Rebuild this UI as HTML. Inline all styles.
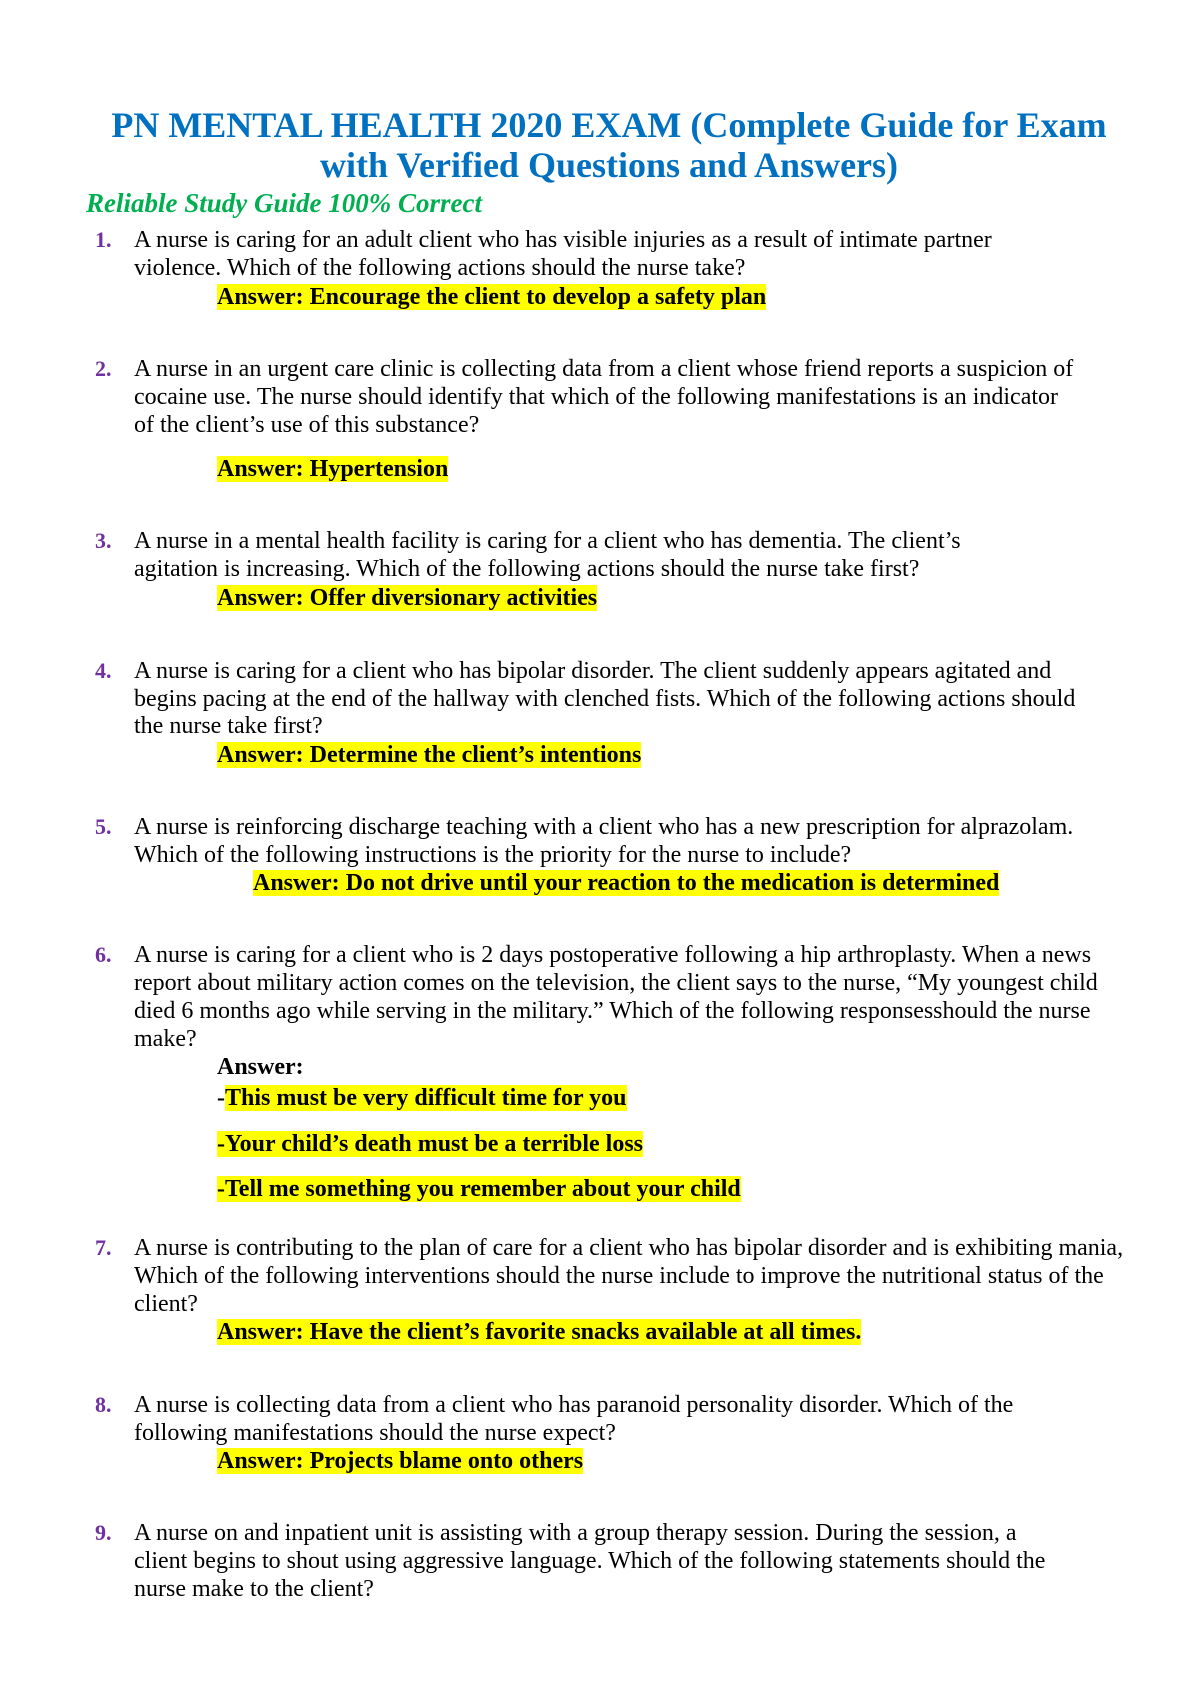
<!DOCTYPE html>
<html><head><meta charset="utf-8"><style>
body{margin:0;background:#fff;}
#p{position:relative;width:1190px;height:1684px;overflow:hidden;font-family:"Liberation Serif",serif;color:#000;}
.t{position:absolute;left:0;width:1190px;text-align:center;font-weight:bold;font-size:36px;color:#0070c0;line-height:38px;white-space:nowrap;padding-left:28px;box-sizing:border-box}
.s{position:absolute;left:86px;font-weight:bold;font-style:italic;font-size:27px;color:#00b050;line-height:28px;white-space:nowrap}
.l{position:absolute;left:134px;font-size:24px;line-height:28px;white-space:nowrap}
.n{position:absolute;left:95px;font-size:22px;line-height:28px;font-weight:bold;color:#7030a0}
.a{position:absolute;left:217px;font-size:24px;line-height:28px;font-weight:bold;white-space:nowrap}
.h{background:#ffff00}
</style></head><body><div id="p">
<div class="t" style="top:106px">PN MENTAL HEALTH 2020 EXAM (Complete Guide for Exam</div>
<div class="t" style="top:146px">with Verified Questions and Answers)</div>
<div class="s" style="top:189px">Reliable Study Guide 100% Correct</div>

<div class="n" style="top:226px">1.</div>
<div class="l" style="top:226px">A nurse is caring for an adult client who has visible injuries as a result of intimate partner</div>
<div class="l" style="top:254px">violence. Which of the following actions should the nurse take?</div>
<div class="a" style="top:283px"><span class="h">Answer: Encourage the client to develop a safety plan</span></div>

<div class="n" style="top:355px">2.</div>
<div class="l" style="top:355px">A nurse in an urgent care clinic is collecting data from a client whose friend reports a suspicion of</div>
<div class="l" style="top:383px">cocaine use. The nurse should identify that which of the following manifestations is an indicator</div>
<div class="l" style="top:411px">of the client’s use of this substance?</div>
<div class="a" style="top:455px"><span class="h">Answer: Hypertension</span></div>

<div class="n" style="top:527px">3.</div>
<div class="l" style="top:527px">A nurse in a mental health facility is caring for a client who has dementia. The client’s</div>
<div class="l" style="top:555px">agitation is increasing. Which of the following actions should the nurse take first?</div>
<div class="a" style="top:584px"><span class="h">Answer: Offer diversionary activities</span></div>

<div class="n" style="top:657px">4.</div>
<div class="l" style="top:657px">A nurse is caring for a client who has bipolar disorder. The client suddenly appears agitated and</div>
<div class="l" style="top:685px">begins pacing at the end of the hallway with clenched fists. Which of the following actions should</div>
<div class="l" style="top:712px">the nurse take first?</div>
<div class="a" style="top:741px"><span class="h">Answer: Determine the client’s intentions</span></div>

<div class="n" style="top:813px">5.</div>
<div class="l" style="top:813px">A nurse is reinforcing discharge teaching with a client who has a new prescription for alprazolam.</div>
<div class="l" style="top:841px">Which of the following instructions is the priority for the nurse to include?</div>
<div class="a" style="top:869px;left:253px"><span class="h">Answer: Do not drive until your reaction to the medication is determined</span></div>

<div class="n" style="top:941px">6.</div>
<div class="l" style="top:941px">A nurse is caring for a client who is 2 days postoperative following a hip arthroplasty. When a news</div>
<div class="l" style="top:969px">report about military action comes on the television, the client says to the nurse, “My youngest child</div>
<div class="l" style="top:997px">died 6 months ago while serving in the military.” Which of the following responsesshould the nurse</div>
<div class="l" style="top:1025px">make?</div>
<div class="a" style="top:1053px">Answer:</div>
<div class="a" style="top:1084px">-<span class="h">This must be very difficult time for you</span></div>
<div class="a" style="top:1130px"><span class="h">-Your child’s death must be a terrible loss</span></div>
<div class="a" style="top:1175px"><span class="h">-Tell me something you remember about your child</span></div>

<div class="n" style="top:1234px">7.</div>
<div class="l" style="top:1234px">A nurse is contributing to the plan of care for a client who has bipolar disorder and is exhibiting mania,</div>
<div class="l" style="top:1262px">Which of the following interventions should the nurse include to improve the nutritional status of the</div>
<div class="l" style="top:1290px">client?</div>
<div class="a" style="top:1318px"><span class="h">Answer: Have the client’s favorite snacks available at all times.</span></div>

<div class="n" style="top:1391px">8.</div>
<div class="l" style="top:1391px">A nurse is collecting data from a client who has paranoid personality disorder. Which of the</div>
<div class="l" style="top:1419px">following manifestations should the nurse expect?</div>
<div class="a" style="top:1447px"><span class="h">Answer: Projects blame onto others</span></div>

<div class="n" style="top:1519px">9.</div>
<div class="l" style="top:1519px">A nurse on and inpatient unit is assisting with a group therapy session. During the session, a</div>
<div class="l" style="top:1547px">client begins to shout using aggressive language. Which of the following statements should the</div>
<div class="l" style="top:1575px">nurse make to the client?</div>
</div></body></html>
